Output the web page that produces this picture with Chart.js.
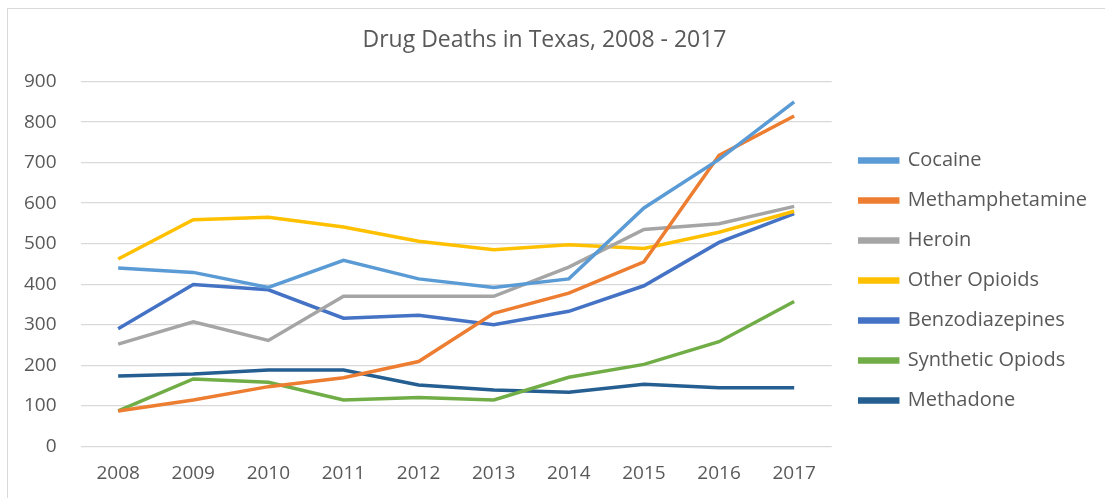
<!DOCTYPE html>
<html>
<head>
<meta charset="utf-8">
<script src="https://cdn.jsdelivr.net/npm/chart.js@4.4.1/dist/chart.umd.min.js"></script>
<style>
    html, body { margin: 0; padding: 0; background: #fff; overflow: hidden; }
    #frame {
        position: absolute; left: 7px; top: 8px; width: 1200px; height: 600px;
        border-top: 1px solid #d9d9d9; border-left: 1px solid #d9d9d9;
    }
    #chart-container { position: absolute; left: 0; top: 0; width: 1105px; height: 498px; }
</style>
</head>
<body>
<div id="frame"></div>
<div id="chart-container"><canvas id="chart"></canvas></div>
<script>
const years = ['2008', '2009', '2010', '2011', '2012', '2013', '2014', '2015', '2016', '2017']

// valores
const cocaine = [440, 429, 392, 459, 413, 392, 413, 588, 708, 850]
const methamphetamine = [87, 114, 147, 169, 209, 328, 378, 455, 718, 815]
const heroin = [252, 307, 261, 370, 370, 370, 442, 535, 549, 592]
const otherOpioids = [462, 559, 565, 541, 506, 485, 497, 488, 528, 580]
const benzodiazepines = [290, 399, 386, 316, 323, 300, 333, 396, 503, 574]
const syntheticOpioids = [87, 166, 158, 114, 120, 114, 170, 202, 258, 357]
const methadone = [173, 178, 188, 188, 151, 139, 133, 153, 144, 144]

const yTicks = [0, 100, 200, 300, 400, 500, 600, 700, 800, 900]

const makeSeries = (label, data, color) => ({
    label: label,
    data: data,
    borderColor: color,
    backgroundColor: color,
    borderWidth: 3.5,
    pointRadius: 0,
    tension: 0
})

// empurra a legenda um pouco para a direita e para baixo
const legendShift = {
    id: 'legendShift',
    afterLayout: (chart) => {
        const lg = chart.legend
        lg.left += 8
        lg.right += 8
        lg.top += 34
        lg.bottom += 34
    }
}

const context = document.getElementById('chart').getContext('2d')
const chart = new Chart(context, {
    type: 'line',
    data: {
        labels: years,
        datasets: [
            makeSeries('Cocaine', cocaine, '#5B9BD5'),
            makeSeries('Methamphetamine', methamphetamine, '#ED7D31'),
            makeSeries('Heroin', heroin, '#A5A5A5'),
            makeSeries('Other Opioids', otherOpioids, '#FFC000'),
            makeSeries('Benzodiazepines', benzodiazepines, '#4472C4'),
            makeSeries('Synthetic Opiods', syntheticOpioids, '#70AD47'),
            makeSeries('Methadone', methadone, '#255E91')
        ]
    },
    options: {
        responsive: true,
        maintainAspectRatio: false,
        animation: false,
        layout: {
            padding: { left: 0, right: 16, top: 0, bottom: 5 }
        },
        scales: {
            x: {
                offset: true,
                grid: { display: false },
                border: { display: false },
                ticks: {
                    color: '#595959',
                    font: { family: 'Open Sans', size: 19 },
                    padding: 8
                }
            },
            y: {
                min: 0,
                max: 900,
                afterBuildTicks: axis => {
                    axis.ticks = yTicks.map(v => ({ value: v }))
                },
                grid: { color: '#d9d9d9', lineWidth: 1.3, drawTicks: false },
                border: { display: false },
                ticks: {
                    color: '#595959',
                    font: { family: 'Open Sans', size: 19 },
                    padding: 24
                }
            }
        },
        plugins: {
            legend: {
                position: 'right',
                labels: {
                    boxWidth: 38,
                    boxHeight: 3,
                    padding: 20,
                    color: '#595959',
                    font: { family: 'Open Sans', size: 20 }
                }
            },
            title: {
                display: true,
                text: 'Drug Deaths in Texas, 2008 - 2017',
                color: '#595959',
                font: { family: 'Open Sans', size: 23, weight: 'normal' },
                padding: { top: 27, bottom: 27 }
            },
            tooltip: { enabled: false }
        }
    },
    plugins: [legendShift]
})
</script>
</body>
</html>
